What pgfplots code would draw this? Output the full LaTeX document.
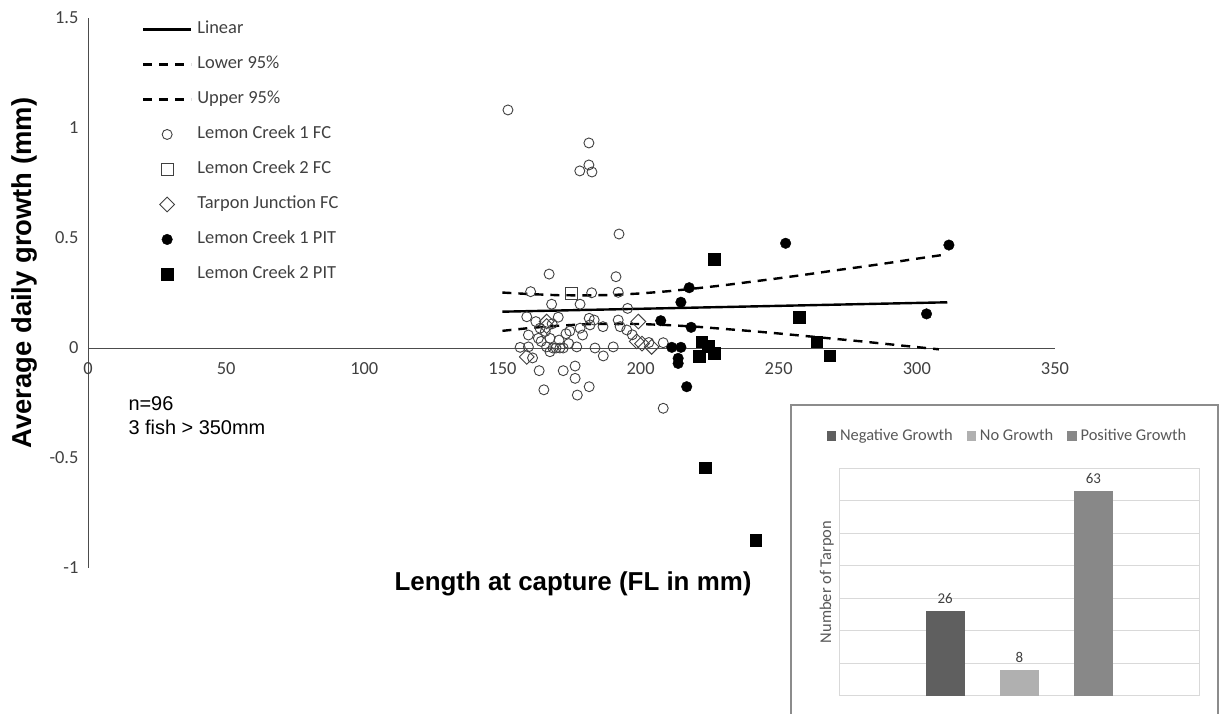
\documentclass[border=0pt]{standalone}
\usepackage{fontspec}
\setmainfont{Carlito}
\newfontfamily\arialf{Liberation Sans}
\usepackage{pgfplots}
\pgfplotsset{compat=1.18}
\definecolor{txt}{RGB}{64,64,64}
\definecolor{ginset}{RGB}{89,89,89}
\definecolor{negc}{RGB}{95,95,95}
\definecolor{noc}{RGB}{176,176,176}
\definecolor{posc}{RGB}{136,136,136}
\definecolor{gridc}{RGB}{217,217,217}
\pgfplotsset{
  mylineleg/.style={legend image code/.code={\draw[#1] (0bp,0bp) -- (48bp,0bp);}},
  mymarkleg/.style={legend image code/.code={\draw[#1, only marks] plot coordinates {(24bp,0bp)};}},
  mybarleg/.style={legend image code/.code={\fill[#1] (0bp,-4.7bp) rectangle (9.3bp,4.7bp);}},
}
\begin{document}
\begin{tikzpicture}
\useasboundingbox (0,0) rectangle (1220bp,714bp);
\begin{axis}[
  scale only axis, width=967bp, height=550bp,
  at={(88bp,146bp)}, anchor=south west,
  xmin=0, xmax=350, ymin=-1, ymax=1.5,
  axis lines=middle,
  axis line style={-, draw=black!70, line width=0.9bp},
  xtick={0,50,...,350}, ytick={-1,-0.5,0,0.5,1,1.5},
  major tick length=0pt,
  hide obscured x ticks=false, hide obscured y ticks=false,
  /pgf/number format/assume math mode=true,
  tick label style={font=\fontsize{18.5}{20}\selectfont, text=txt},
  xticklabel style={yshift=-11bp},
  yticklabel style={xshift=-6bp},
  clip=false,
  legend cell align=left,
  legend style={draw=none, fill=none, inner sep=0pt, outer sep=0pt,
    at={(0.0558,0.9937)}, anchor=north west, row sep=19bp,
    font=\fontsize{18.5}{20}\selectfont, text=txt,
    nodes={inner ysep=0pt, inner xsep=3bp, text height=12bp, text depth=4bp},
    /tikz/every odd column/.append style={column sep=2bp}},
]
\addplot[black, line width=2.4bp, mylineleg] coordinates {
(150,0.165)(160,0.1677)(170,0.1703)(180,0.1730)(190,0.1756)(200,0.1783)(210,0.1809)(220,0.1836)(230,0.1862)(240,0.1889)(250,0.1915)(260,0.1942)(270,0.1968)(280,0.1995)(290,0.2021)(300,0.2048)(311,0.2077)};
\addlegendentry{Linear}
\addplot[black, line width=2.4bp, dash pattern=on 9bp off 7bp, mylineleg] coordinates {
(150,0.078)(160,0.091)(170,0.101)(180,0.108)(190,0.110)(200,0.109)(210,0.104)(220,0.097)(230,0.087)(240,0.077)(250,0.066)(260,0.054)(270,0.042)(280,0.030)(290,0.017)(300,0.004)(308,-0.006)};
\addlegendentry{Lower 95\%}
\addplot[black, line width=2.4bp, dash pattern=on 9bp off 7bp, mylineleg] coordinates {
(150,0.252)(160,0.245)(170,0.240)(180,0.239)(190,0.241)(200,0.248)(210,0.258)(220,0.271)(230,0.285)(240,0.301)(250,0.317)(260,0.334)(270,0.352)(280,0.369)(290,0.387)(300,0.406)(311,0.426)};
\addlegendentry{Upper 95\%}
\addplot[only marks, mark=o, mark size=5bp, draw=black!75, line width=0.9bp, mymarkleg] coordinates {
(152,1.082)(181.3,0.932)(181.3,0.832)(178,0.805)(182.4,0.80)(192.2,0.518)(166.9,0.336)(191.1,0.324)(160.2,0.256)(182.3,0.251)(191.9,0.253)(167.8,0.199)(178.1,0.199)(195.3,0.18)(170.2,0.14)(181.4,0.135)(183.2,0.127)(191.9,0.127)(162.1,0.12)(163.6,0.09)(174.4,0.077)(178.1,0.09)(181.7,0.105)(186.4,0.097)(192.6,0.097)(195,0.082)(179,0.059)(159.4,0.059)(163,0.044)(167.2,0.044)(170.5,0.036)(156.4,0.003)(159.4,0.005)(166,0.005)(168.3,0)(169.4,0)(170.8,0)(172,0)(176.9,0.005)(183.5,0)(190.1,0.005)(208.2,0.024)(160.9,-0.045)(167.2,-0.017)(186.5,-0.036)(163.3,-0.103)(172,-0.103)(176.3,-0.082)(176.3,-0.138)(181.4,-0.176)(165,-0.19)(177.1,-0.214)(208.2,-0.274)(165.5,0.075)(168,0.11)(173,0.065)(158.8,0.142)(197,0.06)(174,0.02)(164,0.03)(203,0.025)};
\addlegendentry{Lemon Creek 1 FC}
\addplot[only marks, mark=square, mark size=6bp, draw=black!75, line width=0.9bp, mymarkleg] coordinates {(175,0.25)};
\addlegendentry{Lemon Creek 2 FC}
\addplot[only marks, mark=square, mark size=5.2bp, mark options={rotate=45}, draw=black!75, line width=0.9bp, mymarkleg] coordinates {
(199.2,0.12)(166,0.12)(198.6,0.03)(200.5,0.02)(204,0.005)(158.8,-0.04)(166,0.10)};
\addlegendentry{Tarpon Junction FC}
\addplot[only marks, mark=*, mark size=5.3bp, black, mymarkleg] coordinates {
(252.5,0.476)(311.6,0.468)(303.5,0.155)(217.6,0.274)(214.6,0.208)(207.3,0.124)(218.3,0.094)(211.3,0.003)(214.6,0.003)(213.6,-0.047)(213.6,-0.07)(216.7,-0.176)};
\addlegendentry{Lemon Creek 1 PIT}
\addplot[only marks, mark=square*, mark size=5.8bp, black, mymarkleg] coordinates {
(226.7,0.403)(257.4,0.14)(263.7,0.029)(268.5,-0.035)(222.1,0.029)(221.2,-0.036)(226.7,-0.024)(224.4,0.009)(223.3,-0.544)(241.6,-0.874)};
\addlegendentry{Lemon Creek 2 PIT}
\end{axis}
\node[font=\arialf\bfseries\fontsize{26}{30}\selectfont, text=black] at (573bp,130bp) {Length at capture (FL in mm)};
\node[font=\arialf\bfseries\fontsize{27.5}{30}\selectfont, text=black, rotate=90] at (24bp,441bp) {Average daily growth (mm)};
\node[font=\arialf\fontsize{20}{24}\selectfont, text=black, anchor=west, align=left] at (125bp,298bp) {n=96\\3 fish > 350mm};
\draw[black!45, line width=1.3bp, fill=white] (791bp,-20bp) rectangle (1218bp,309bp);
\begin{axis}[
  scale only axis, width=360bp, height=227.4bp,
  at={(839.3bp,18.3bp)}, anchor=south west,
  xmin=-1.43, xmax=3.43, ymin=0, ymax=70,
  ytick={0,10,...,70}, yticklabels={}, xtick=\empty,
  major tick length=0pt,
  ymajorgrids, grid style={draw=gridc, line width=0.9bp},
  axis line style={draw=gridc, line width=0.9bp},
  /pgf/number format/assume math mode=true,
  ylabel={Number of Tarpon},
  ylabel style={font=\fontsize{16.5}{18}\selectfont, text=ginset, at={(axis description cs:-0.035,0.5)}, anchor=center},
  nodes near coords,
  every node near coord/.append style={font=\fontsize{15}{17}\selectfont, text=txt, yshift=4bp},
  legend columns=3,
  legend style={draw=none, fill=none, inner sep=0pt, outer sep=0pt,
    at={(-0.035,1.142)}, anchor=west,
    font=\fontsize{16.5}{18}\selectfont, text=ginset,
    nodes={inner sep=0pt, text height=11bp, text depth=3bp},
    /tikz/every odd column/.append style={column sep=4bp},
    /tikz/every even column/.append style={column sep=14bp}},
]
\addplot[ybar, bar width=38.7bp, bar shift=0pt, fill=negc, draw=none, mybarleg] coordinates {(0,26)};
\addlegendentry{Negative Growth}
\addplot[ybar, bar width=38.7bp, bar shift=0pt, fill=noc, draw=none, mybarleg] coordinates {(1,8)};
\addlegendentry{No Growth}
\addplot[ybar, bar width=38.7bp, bar shift=0pt, fill=posc, draw=none, mybarleg] coordinates {(2,63)};
\addlegendentry{Positive Growth}
\end{axis}
\end{tikzpicture}
\end{document}
